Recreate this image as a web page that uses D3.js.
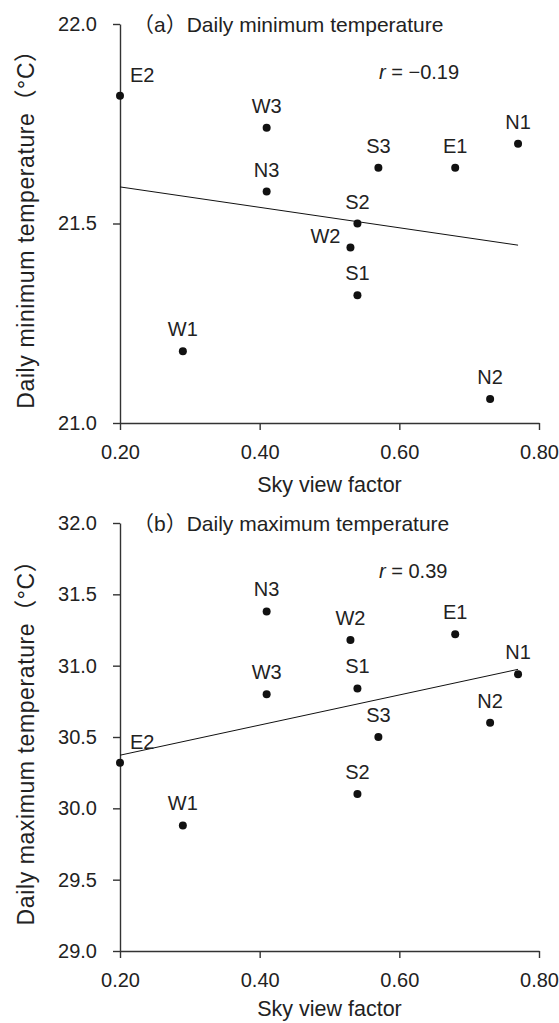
<!DOCTYPE html>
<html>
<head>
<meta charset="utf-8">
<script src="https://cdn.jsdelivr.net/npm/d3@7"></script>
<style>
  body { margin: 0; background: #fff; }
  svg { display: block; font-family: "Liberation Sans", Arial, "Noto Sans CJK JP", sans-serif; }
  .axis path, .axis line { stroke: #333; stroke-width: 1.4; }
  .axis text { fill: #222; font-size: 20px; }
</style>
</head>
<body>
<div id="chart"></div>
<script>
// observation sites and their sky view factor
const sites = ["E2", "W3", "N3", "S3", "E1", "N1", "S2", "W2", "S1", "W1", "N2"];
const svf = [0.20, 0.41, 0.41, 0.57, 0.68, 0.77, 0.54, 0.53, 0.54, 0.29, 0.73];

// daily minimum / maximum temperature (°C)
const tMin = [21.82, 21.74, 21.58, 21.64, 21.64, 21.70, 21.50, 21.44, 21.32, 21.18, 21.06];
const tMax = [30.32, 30.80, 31.38, 30.50, 31.22, 30.94, 30.10, 31.18, 30.84, 29.88, 30.60];

// ticks
const xTicks = [0.20, 0.40, 0.60, 0.80];
const yTicksMin = [21.0, 21.5, 22.0];
const yTicksMax = [29.0, 29.5, 30.0, 30.5, 31.0, 31.5, 32.0];

const panels = [
  { title: "（a）Daily minimum temperature", ylab: "Daily minimum temperature（°C）",
    values: tMin, domain: [21.0, 22.0], ticks: yTicksMin, rText: "= −0.19",
    top: 24, height: 399, xlabGap: 61, labelSide: { E2: "right", W2: "left" } },
  { title: "（b）Daily maximum temperature", ylab: "Daily maximum temperature（°C）",
    values: tMax, domain: [29.0, 32.0], ticks: yTicksMax, rText: "= 0.39",
    top: 523, height: 428, xlabGap: 57, labelSide: { E2: "right" } }
];

const W = 559, H = 1023;
const plotLeft = 120, plotRight = 539;

const svg = d3.select("#chart").append("svg")
  .attr("width", W)
  .attr("height", H);

const x = d3.scaleLinear().domain([0.2, 0.8]).range([plotLeft, plotRight]);

panels.forEach(p => {
  const bottom = p.top + p.height;
  const y = d3.scaleLinear().domain(p.domain).range([bottom, p.top]);
  const g = svg.append("g");

  // axes
  g.append("g")
    .attr("class", "axis")
    .attr("transform", `translate(0,${bottom})`)
    .call(d3.axisBottom(x).tickValues(xTicks).tickFormat(d3.format(".2f"))
      .tickSize(7).tickSizeOuter(0).tickPadding(15));

  g.append("g")
    .attr("class", "axis")
    .attr("transform", `translate(${plotLeft},0)`)
    .call(d3.axisLeft(y).tickValues(p.ticks).tickFormat(d3.format(".1f"))
      .tickSize(7).tickSizeOuter(0).tickPadding(16));

  // regression line over the range of the data
  const pts = svf.map((v, i) => [v, p.values[i]]);
  const mx = d3.mean(svf), my = d3.mean(p.values);
  const sxy = d3.sum(pts, d => (d[0] - mx) * (d[1] - my));
  const sxx = d3.sum(pts, d => (d[0] - mx) ** 2);
  const slope = sxy / sxx, icpt = my - slope * mx;
  const [x0, x1] = d3.extent(svf);
  g.append("line")
    .attr("x1", x(x0)).attr("y1", y(icpt + slope * x0))
    .attr("x2", x(x1)).attr("y2", y(icpt + slope * x1))
    .attr("stroke", "#111")
    .attr("stroke-width", 1);

  // points
  g.selectAll(".dot")
    .data(pts)
    .join("circle")
    .attr("cx", d => x(d[0]))
    .attr("cy", d => y(d[1]))
    .attr("r", 4)
    .attr("fill", "#111");

  // site labels
  g.selectAll(".site")
    .data(pts)
    .join("text")
    .attr("font-size", 20)
    .attr("fill", "#222")
    .each(function (d, i) {
      const side = p.labelSide[sites[i]];
      const t = d3.select(this).text(sites[i]);
      if (side === "right") {
        t.attr("x", x(d[0]) + 10).attr("y", y(d[1]) - 14).attr("text-anchor", "start");
      } else if (side === "left") {
        t.attr("x", x(d[0]) - 10).attr("y", y(d[1]) - 4).attr("text-anchor", "end");
      } else {
        t.attr("x", x(d[0])).attr("y", y(d[1]) - 15).attr("text-anchor", "middle");
      }
    });

  // panel title
  g.append("text")
    .attr("x", 133)
    .attr("y", p.top)
    .attr("dy", "0.36em")
    .attr("font-size", 21)
    .attr("fill", "#222")
    .text(p.title);

  // correlation
  const rt = g.append("text")
    .attr("x", 379)
    .attr("y", p.top + 48)
    .attr("dy", "0.36em")
    .attr("font-size", 20)
    .attr("fill", "#222");
  rt.append("tspan").attr("font-style", "italic").text("r");
  rt.append("tspan").text(" " + p.rText);

  // axis titles
  g.append("text")
    .attr("x", (plotLeft + plotRight) / 2)
    .attr("y", bottom + p.xlabGap)
    .attr("dy", "0.36em")
    .attr("text-anchor", "middle")
    .attr("font-size", 21.5)
    .attr("fill", "#222")
    .text("Sky view factor");

  g.append("text")
    .attr("transform", `translate(26,${p.top + p.height / 2}) rotate(-90)`)
    .attr("dy", "0.36em")
    .attr("text-anchor", "middle")
    .attr("font-size", 23)
    .attr("letter-spacing", "0.6px")
    .attr("fill", "#222")
    .text(p.ylab);
});
</script>
</body>
</html>
